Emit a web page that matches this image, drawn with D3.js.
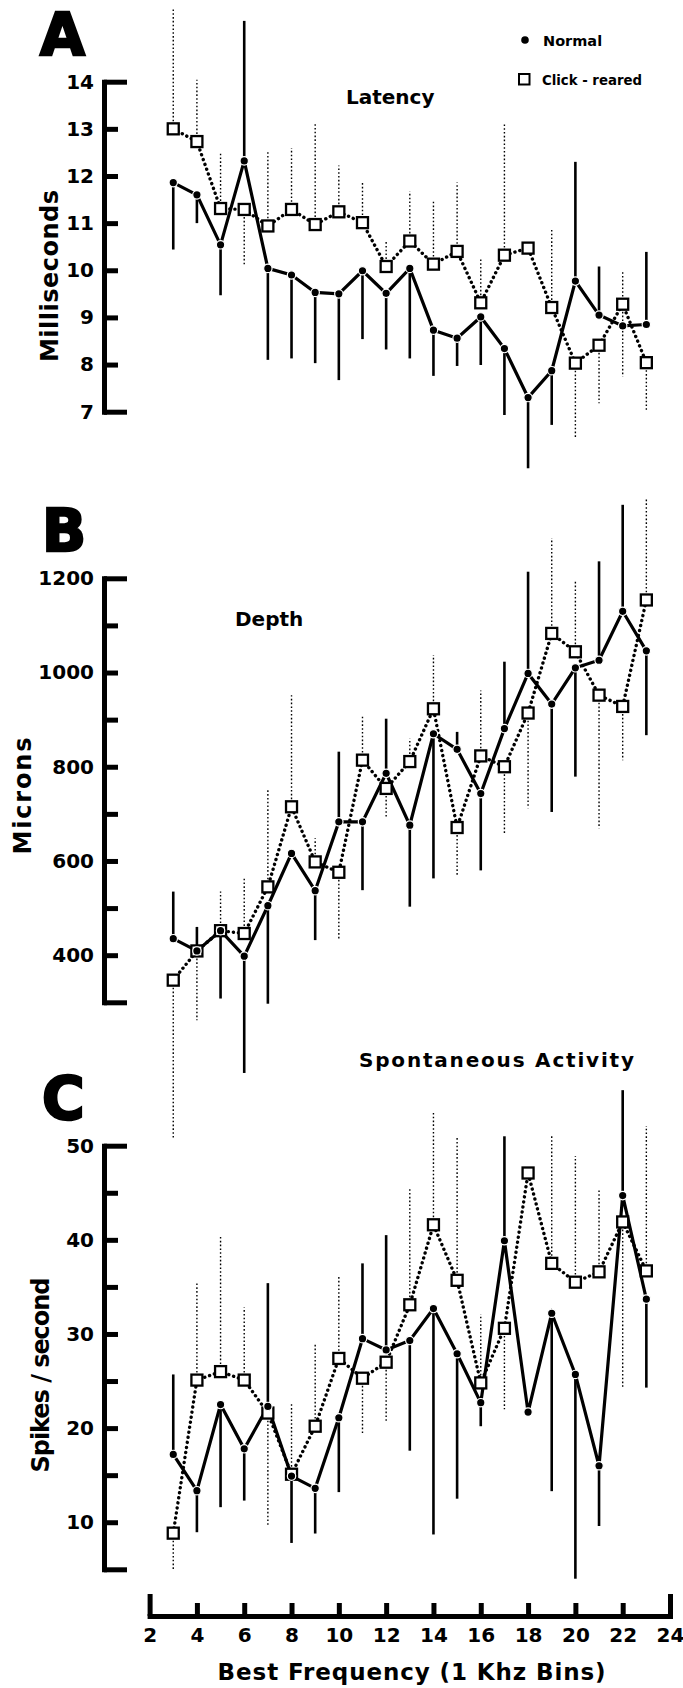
<!DOCTYPE html>
<html>
<head>
<meta charset="utf-8">
<script src="https://cdn.jsdelivr.net/npm/d3@7"></script>
<style>
  body { margin: 0; background: #fff; }
  text { font-family: "DejaVu Sans", sans-serif; font-weight: bold; fill: #000; }
</style>
</head>
<body>
<script>
// best frequency bins (1 kHz)
const bins = [3, 4, 5, 6, 7, 8, 9, 10, 11, 12, 13, 14, 15, 16, 17, 18, 19, 20, 21, 22, 23];
const xTicks = [2, 4, 6, 8, 10, 12, 14, 16, 18, 20, 22, 24];

// A - latency (ms); err = far end of the one-sided bar
const latNormal = [11.86, 11.6, 10.54, 12.32, 10.04, 9.9, 9.53, 9.5, 9.99, 9.51, 10.04, 8.73, 8.56, 9.01, 8.34, 7.3, 7.87, 9.77, 9.05, 8.82, 8.85];
const latNormalErr = [10.44, 11.0, 9.47, 15.29, 8.1, 8.13, 8.03, 7.67, 8.54, 8.32, 8.13, 7.76, 7.97, 7.99, 6.93, 5.8, 6.72, 12.3, 10.08, null, 10.39];
const latClick = [13.0, 12.73, 11.31, 11.29, 10.94, 11.29, 10.97, 11.24, 11.01, 10.08, 10.62, 10.13, 10.4, 9.31, 10.32, 10.47, 9.21, 8.03, 8.41, 9.28, 8.04];
const latClickErr = [15.57, 14.04, 12.52, 10.11, 12.52, 12.59, 13.14, 12.22, 11.9, 10.64, 11.67, 11.5, 11.86, 10.23, 13.13, null, 10.87, 6.43, 7.18, [7.74, 10.0], 7.04];

// B - depth (microns)
const depNormal = [435, 409, 452, 398, 505, 616, 537, 683, 683, 786, 676, 870, 837, 743, 881, 998, 933, 1010, 1026, 1130, 1046];
const depNormalErr = [535, 460, 308, 150, 297, null, 432, 832, 538, 902, 503, 563, 874, 580, 1023, 1214, 704, 779, 1236, 1356, 867];
const depClick = [347, 409, 452, 446, 545, 715, 598, 576, 814, 754, 811, 923, 671, 823, 800, 914, 1083, 1044, 952, 928, 1154];
const depClickErr = [8, 262, 535, 563, 754, 952, 648, 432, 909, 690, 860, 1037, 566, 962, 655, 712, 1285, 1197, 669, 814, 1367];

// C - spontaneous activity (spikes/s)
const spkNormal = [17.2, 13.35, 22.5, 17.8, 22.3, 14.9, 13.6, 21.1, 29.5, 28.3, 29.3, 32.7, 27.9, 22.7, 39.9, 21.7, 32.2, 25.7, 16.0, 44.7, 33.7];
const spkNormalErr = [25.7, 8.94, 11.6, 12.3, 35.4, 7.8, 8.8, 13.2, 37.5, 40.5, 17.6, 8.7, 12.5, 20.2, 51.0, null, 13.3, 4.0, 9.6, 55.9, 24.3];
const spkClick = [8.84, 25.1, 26.0, 25.1, 21.6, 15.1, 20.2, 27.4, 25.3, 27.0, 33.1, 41.6, 35.7, 24.8, 30.6, 47.1, 37.5, 35.5, 36.6, 41.9, 36.7];
const spkClickErr = [4.8, 35.5, 40.3, 32.8, 9.6, 22.7, 29.0, 36.2, 19.3, 20.6, 45.4, 53.5, 51.0, 32.1, 22.0, null, 51.2, 48.9, 45.4, 24.4, 52.1];

const latTicks = [7, 8, 9, 10, 11, 12, 13, 14];
const depTicks = [300, 400, 500, 600, 700, 800, 900, 1000, 1100, 1200];
const depLabels = [400, 600, 800, 1000, 1200];
const spkTicks = [5, 10, 15, 20, 25, 30, 35, 40, 45, 50];
const spkLabels = [10, 20, 30, 40, 50];

var W = 683, H = 1688;
var axisX = 104;

var svg = d3.select("body").append("svg")
  .attr("width", W)
  .attr("height", H);
svg.append("rect").attr("width", W).attr("height", H).attr("fill", "#fff");

var x = d3.scaleLinear().domain([2, 24]).range([149.6, 670]);

var panels = [
  { letter: "A", lx: 40, ly: 55, domain: [7, 14], range: [411.7, 81.7], ticks: latTicks, labels: latTicks,
    title: "Latency", tx: 346, ty: 104, tlen: null,
    ytitle: "Milliseconds", yx: 50, yy: 276, ylen: 172,
    normal: latNormal, normalErr: latNormalErr, click: latClick, clickErr: latClickErr },
  { letter: "B", lx: 42, ly: 551, domain: [300, 1200], range: [1002.3, 578.3], ticks: depTicks, labels: depLabels,
    title: "Depth", tx: 235, ty: 626, tlen: null,
    ytitle: "Microns", yx: 23, yy: 796, ylen: 117,
    normal: depNormal, normalErr: depNormalErr, click: depClick, clickErr: depClickErr },
  { letter: "C", lx: 42, ly: 1119, domain: [5, 50], range: [1569.3, 1145.7], ticks: spkTicks, labels: spkLabels,
    title: "Spontaneous Activity", tx: 359, ty: 1067, tlen: 275,
    ytitle: "Spikes / second", yx: 41, yy: 1375, ylen: 195,
    normal: spkNormal, normalErr: spkNormalErr, click: spkClick, clickErr: spkClickErr }
];

panels.forEach(function (p) {
  var y = d3.scaleLinear().domain(p.domain).range(p.range);
  var g = svg.append("g");

  // panel letter
  g.append("text")
    .attr("x", p.lx).attr("y", p.ly)
    .attr("font-size", 58)
    .attr("stroke", "#000").attr("stroke-width", 2.5)
    .text(p.letter);

  // y axis, ticks pointing into the plot
  var endVals = [p.domain[0], p.domain[1]];
  var axis = d3.axisLeft(y)
    .tickValues(p.ticks)
    .tickSizeInner(-14)
    .tickSizeOuter(0)
    .tickPadding(10)
    .tickFormat(function (d) { return p.labels.indexOf(d) >= 0 ? d : ""; });
  var ax = g.append("g").attr("transform", "translate(" + axisX + ",0)").call(axis);
  ax.select(".domain").attr("stroke", "#000").attr("stroke-width", 5).attr("stroke-linecap", "square");
  ax.selectAll(".tick line").attr("stroke", "#000").attr("stroke-width", 5)
    .attr("x2", function (d) { return endVals.indexOf(d) >= 0 ? 23 : 14; });
  ax.selectAll(".tick text")
    .attr("font-size", 20)
    .attr("font-family", "DejaVu Sans, sans-serif")
    .attr("font-weight", "bold")
    .attr("fill", "#000");

  // titles
  var t = g.append("text").attr("x", p.tx).attr("y", p.ty).attr("font-size", 20).text(p.title);
  if (p.tlen) t.attr("textLength", p.tlen).attr("lengthAdjust", "spacing");

  g.append("text")
    .attr("transform", "translate(" + p.yx + "," + p.yy + ") rotate(-90)")
    .attr("text-anchor", "middle")
    .attr("dominant-baseline", "central")
    .attr("font-size", 24)
    .attr("textLength", p.ylen)
    .attr("lengthAdjust", "spacing")
    .text(p.ytitle);

  // error bars
  function errSegs(vals, errs) {
    var segs = [];
    bins.forEach(function (b, i) {
      var e = errs[i];
      if (e == null) return;
      (Array.isArray(e) ? e : [e]).forEach(function (end) {
        segs.push({ b: b, v: vals[i], e: end });
      });
    });
    return segs;
  }

  g.append("g").selectAll("line")
    .data(errSegs(p.click, p.clickErr))
    .enter().append("line")
    .attr("x1", function (d) { return x(d.b); })
    .attr("x2", function (d) { return x(d.b); })
    .attr("y1", function (d) { return y(d.v); })
    .attr("y2", function (d) { return y(d.e); })
    .attr("stroke", "#000")
    .attr("stroke-width", 1.4)
    .attr("stroke-dasharray", "1.6,2.2");

  g.append("g").selectAll("line")
    .data(errSegs(p.normal, p.normalErr))
    .enter().append("line")
    .attr("x1", function (d) { return x(d.b); })
    .attr("x2", function (d) { return x(d.b); })
    .attr("y1", function (d) { return y(d.v); })
    .attr("y2", function (d) { return y(d.e); })
    .attr("stroke", "#000")
    .attr("stroke-width", 2.6);

  // connecting lines
  var line = d3.line()
    .x(function (d, i) { return x(bins[i]); })
    .y(function (d) { return y(d); });

  g.append("path")
    .attr("d", line(p.click))
    .attr("fill", "none")
    .attr("stroke", "#000")
    .attr("stroke-width", 3.4)
    .attr("stroke-linecap", "round")
    .attr("stroke-dasharray", "0.1,5");

  g.append("path")
    .attr("d", line(p.normal))
    .attr("fill", "none")
    .attr("stroke", "#000")
    .attr("stroke-width", 3.2);

  // markers
  g.append("g").selectAll("rect")
    .data(p.click)
    .enter().append("rect")
    .attr("x", function (d, i) { return x(bins[i]) - 5.5; })
    .attr("y", function (d) { return y(d) - 5.5; })
    .attr("width", 11).attr("height", 11)
    .attr("fill", "#fff")
    .attr("stroke", "#000")
    .attr("stroke-width", 2.3);

  g.append("g").selectAll("circle")
    .data(p.normal)
    .enter().append("circle")
    .attr("cx", function (d, i) { return x(bins[i]); })
    .attr("cy", function (d) { return y(d); })
    .attr("r", 4.2)
    .attr("fill", "#000")
    .attr("stroke", "#fff")
    .attr("stroke-width", 1.2);
});

// legend
svg.append("circle").attr("cx", 525).attr("cy", 40).attr("r", 3.8).attr("fill", "#000");
svg.append("text").attr("x", 543).attr("y", 45.5).attr("font-size", 14.5).text("Normal");
svg.append("rect").attr("x", 519).attr("y", 74).attr("width", 10.5).attr("height", 10.5)
  .attr("fill", "#fff").attr("stroke", "#000").attr("stroke-width", 2);
svg.append("text").attr("x", 542).attr("y", 84.5).attr("font-size", 14.5)
  .attr("textLength", 100).attr("lengthAdjust", "spacingAndGlyphs")
  .text("Click - reared");

// x axis, ticks pointing up
var xAxis = d3.axisBottom(x)
  .tickValues(xTicks)
  .tickSizeInner(-13)
  .tickSizeOuter(0)
  .tickPadding(12);
var xg = svg.append("g").attr("transform", "translate(0,1616)").call(xAxis);
xg.select(".domain").attr("stroke", "#000").attr("stroke-width", 5).attr("stroke-linecap", "square");
xg.selectAll(".tick line").attr("stroke", "#000").attr("stroke-width", 5)
  .attr("y2", function (d) { return d === 2 || d === 24 ? -22 : -13; });
xg.selectAll(".tick text")
  .attr("font-size", 20)
  .attr("font-family", "DejaVu Sans, sans-serif")
  .attr("font-weight", "bold")
  .attr("fill", "#000");

svg.append("text")
  .attr("x", 411.6).attr("y", 1680)
  .attr("text-anchor", "middle")
  .attr("font-size", 23)
  .attr("textLength", 388)
  .attr("lengthAdjust", "spacing")
  .text("Best Frequency (1 Khz Bins)");
</script>
</body>
</html>
